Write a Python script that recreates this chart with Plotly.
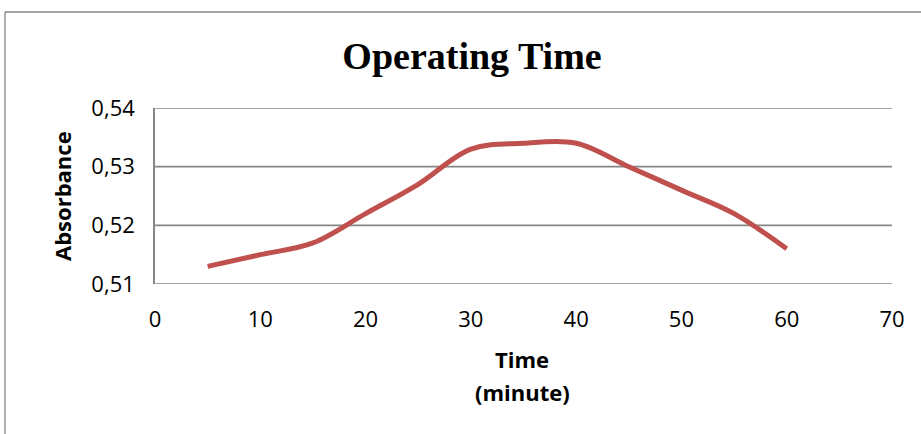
import plotly.graph_objects as go

# Absorbance readings over time (minutes)
time_min = [5, 10, 15, 20, 25, 30, 35, 40, 45, 50, 55, 60]
absorbance = [0.513, 0.515, 0.517, 0.522, 0.527, 0.533, 0.534, 0.534, 0.530, 0.526, 0.522, 0.516]
x_ticks = [0, 10, 20, 30, 40, 50, 60, 70]
y_ticks = [0.51, 0.52, 0.53, 0.54]

W, H = 921, 434
ML, MR, MT, MB = 155, 29, 108, 150
PW, PH = W - ML - MR, H - MT - MB

GRID = "#868686"
LINE = "#C0504D"
TICK_FONT = dict(family="Open Sans", size=22, color="#000000")
LABEL_FONT = dict(family="Open Sans", size=22, color="#000000")


def px_to_paper_x(px):
    return (px - ML) / PW


def px_to_paper_y(py):
    return (H - MB - py) / PH


fig = go.Figure()
fig.add_trace(go.Scatter(
    x=time_min, y=absorbance, mode="lines",
    line=dict(color=LINE, width=5, shape="spline", smoothing=1.0),
    showlegend=False, hoverinfo="x+y",
))

# horizontal gridlines, drawn as shapes so the ones on the plot edges show too
grid_shapes = [
    dict(type="line", xref="paper", yref="y", x0=0, x1=1, y0=v, y1=v,
         line=dict(color=GRID, width=1.6), layer="below")
    for v in y_ticks
]

frame_shapes = [
    # chart frame: left and top edges
    dict(type="line", xref="paper", yref="paper",
         x0=px_to_paper_x(5), x1=px_to_paper_x(5),
         y0=px_to_paper_y(12), y1=px_to_paper_y(H + 5),
         line=dict(color=GRID, width=1.3)),
    dict(type="line", xref="paper", yref="paper",
         x0=px_to_paper_x(5), x1=px_to_paper_x(W + 5),
         y0=px_to_paper_y(12), y1=px_to_paper_y(12),
         line=dict(color=GRID, width=1.3)),
]

fig.update_layout(
    width=W, height=H,
    margin=dict(l=ML, r=MR, t=MT, b=MB, pad=0),
    paper_bgcolor="white", plot_bgcolor="white",
    separators=",.",
    title=dict(
        text="<b>Operating Time</b>",
        font=dict(family="Liberation Serif", size=38, color="#000000"),
        x=472 / W, xanchor="center", xref="container",
        y=1 - 56 / H, yanchor="middle", yref="container",
    ),
    xaxis=dict(
        range=[0, 70], tickvals=x_ticks, ticktext=[str(v) for v in x_ticks],
        showgrid=False, zeroline=False, showline=False,
        ticks="", ticklabelstandoff=20, tickfont=TICK_FONT,
    ),
    yaxis=dict(
        range=[0.51, 0.54], tickvals=y_ticks, tickformat=".2f",
        showgrid=False, zeroline=False,
        showline=True, linecolor=GRID, linewidth=1.6,
        ticks="", ticklabelstandoff=14, tickfont=TICK_FONT,
    ),
    annotations=[
        dict(text="<b>Absorbance</b>", textangle=-90, showarrow=False,
             xref="paper", yref="paper",
             x=px_to_paper_x(62), y=px_to_paper_y(196),
             xanchor="center", yanchor="middle", font=LABEL_FONT),
        dict(text="<b>Time</b>", showarrow=False,
             xref="paper", yref="paper",
             x=px_to_paper_x(522), y=px_to_paper_y(359),
             xanchor="center", yanchor="middle", font=LABEL_FONT),
        dict(text="<b>(minute)</b>", showarrow=False,
             xref="paper", yref="paper",
             x=px_to_paper_x(522), y=px_to_paper_y(392),
             xanchor="center", yanchor="middle", font=LABEL_FONT),
    ],
    shapes=grid_shapes + frame_shapes,
)

fig.write_html("out.html")
